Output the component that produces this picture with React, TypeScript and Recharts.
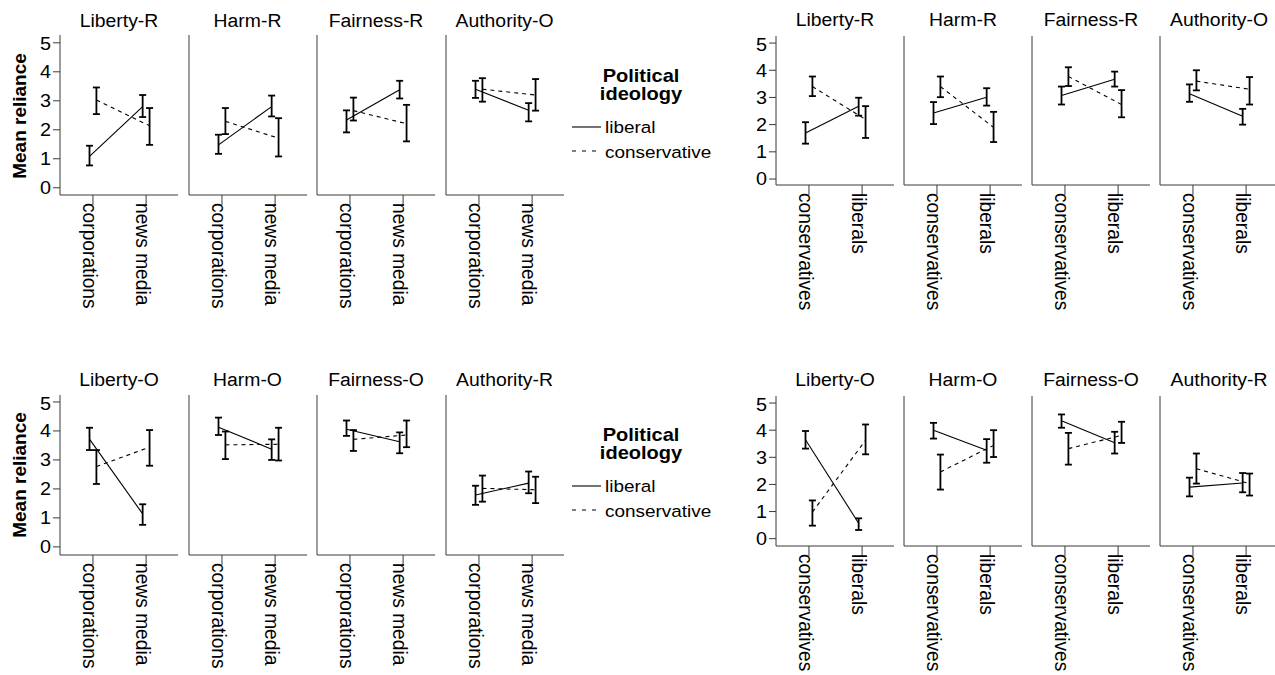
import React from 'react';
import { LineChart, Line, XAxis, YAxis, ErrorBar } from 'recharts';

const FONT = '"Liberation Sans", Arial, Helvetica, sans-serif';
const SX = 1.1;

// ---------- categories / labels ----------
const sourceCategories = ['corporations', 'news media'];
const targetCategories = ['conservatives', 'liberals'];
const yTicks = [0, 1, 2, 3, 4, 5];
const rowOneTitles = ['Liberty-R', 'Harm-R', 'Fairness-R', 'Authority-O'];
const rowTwoTitles = ['Liberty-O', 'Harm-O', 'Fairness-O', 'Authority-R'];
const legendTitle = ['Political', 'ideology'];
const seriesNames = ['liberal', 'conservative'];

// ---------- top-left (news source) ----------
const tlLibMean = [[1.08, 2.8], [1.48, 2.8], [2.34, 3.38], [3.4, 2.67]];
const tlLibLow = [[0.77, 2.44], [1.17, 2.46], [1.91, 3.08], [3.1, 2.29]];
const tlLibHigh = [[1.45, 3.2], [1.83, 3.18], [2.67, 3.69], [3.69, 2.92]];
const tlConMean = [[3.03, 2.14], [2.29, 1.71], [2.66, 2.21], [3.4, 3.2]];
const tlConLow = [[2.54, 1.48], [1.85, 1.08], [2.32, 1.6], [2.97, 2.66]];
const tlConHigh = [[3.46, 2.75], [2.75, 2.4], [3.11, 2.86], [3.78, 3.75]];

// ---------- top-right (target) ----------
const trLibMean = [[1.69, 2.68], [2.43, 3.01], [3.07, 3.67], [3.14, 2.31]];
const trLibLow = [[1.3, 2.33], [2.02, 2.7], [2.74, 3.4], [2.84, 2.0]];
const trLibHigh = [[2.09, 2.99], [2.83, 3.34], [3.4, 3.95], [3.48, 2.58]];
const trConMean = [[3.4, 2.19], [3.4, 1.9], [3.77, 2.74], [3.6, 3.3]];
const trConLow = [[3.05, 1.51], [3.01, 1.36], [3.42, 2.27], [3.26, 2.74]];
const trConHigh = [[3.77, 2.68], [3.77, 2.47], [4.11, 3.27], [4.0, 3.75]];

// ---------- bottom-left (news source) ----------
const blLibMean = [[3.72, 1.14], [4.13, 3.37], [4.06, 3.63], [1.79, 2.2]];
const blLibLow = [[3.34, 0.76], [3.86, 3.0], [3.83, 3.23], [1.45, 1.85]];
const blLibHigh = [[4.11, 1.47], [4.46, 3.71], [4.36, 3.95], [2.11, 2.6]];
const blConMean = [[2.77, 3.44], [3.52, 3.54], [3.71, 3.86], [2.02, 1.97]];
const blConLow = [[2.17, 2.8], [3.03, 2.98], [3.31, 3.44], [1.56, 1.51]];
const blConHigh = [[3.34, 4.03], [3.98, 4.11], [4.03, 4.36], [2.46, 2.42]];

// ---------- bottom-right (target) ----------
const brLibMean = [[3.65, 0.57], [4.0, 3.26], [4.35, 3.54], [1.9, 2.05]];
const brLibLow = [[3.32, 0.32], [3.69, 2.8], [4.09, 3.14], [1.56, 1.71]];
const brLibHigh = [[3.97, 0.75], [4.27, 3.67], [4.58, 3.94], [2.25, 2.42]];
const brConMean = [[0.98, 3.63], [2.46, 3.44], [3.32, 3.81], [2.58, 2.03]];
const brConLow = [[0.48, 3.11], [1.81, 3.01], [2.73, 3.53], [2.03, 1.59]];
const brConHigh = [[1.41, 4.21], [3.1, 4.0], [3.9, 4.31], [3.14, 2.4]];

const DODGE = 0.065;

function buildSeries(mean: number[], low: number[], high: number[], shift: number) {
  return mean.map((m, i) => ({ x: i + shift, y: m, e: [m - low[i], high[i] - m] }));
}

const YW = 40;
const XH = 130;

function XTick(props: any) {
  const { x, y, payload, labels } = props;
  const ax = x - 10;
  return (
    <text
      transform={`translate(${ax},${y - 2}) scale(${SX},1) rotate(90)`}
      x={0}
      y={0}
      fontSize={19.2}
      fontFamily={FONT}
      fill="#000"
      textAnchor="start"
    >
      {labels[payload.value]}
    </text>
  );
}

function YTick(props: any) {
  const { x, y, payload } = props;
  return (
    <text
      transform={`translate(${x},${y}) scale(${SX},1)`}
      x={0}
      y={0}
      dy="0.36em"
      fontSize={18}
      fontFamily={FONT}
      fill="#000"
      textAnchor="end"
    >
      {payload.value}
    </text>
  );
}

type PanelProps = {
  left: number;
  top: number;
  width: number;
  height: number;
  domain: [number, number];
  showTicks: boolean;
  labels: string[];
  lib: any[];
  con: any[];
};

function Panel({ left, top, width, height, domain, showTicks, labels, lib, con }: PanelProps) {
  return (
    <div style={{ position: 'absolute', left: left - YW, top }}>
      <LineChart
        width={YW + width + 2}
        height={height + XH}
        margin={{ top: 0, right: 2, bottom: 0, left: 0 }}
      >
        <XAxis
          type="number"
          dataKey="x"
          domain={[-0.62, 1.6]}
          ticks={[0, 1]}
          allowDataOverflow
          height={XH}
          tickSize={10}
          tickMargin={0}
          interval={0}
          stroke="#3a3a3a"
          tick={<XTick labels={labels} />}
        />
        <YAxis
          type="number"
          domain={domain}
          ticks={yTicks}
          allowDataOverflow
          width={YW}
          stroke="#3a3a3a"
          tickSize={7}
          tickMargin={2}
          tickLine={showTicks}
          tick={showTicks ? <YTick /> : false}
        />
        <Line
          data={lib}
          dataKey="y"
          stroke="#000"
          strokeWidth={1.1}
          dot={false}
          isAnimationActive={false}
        >
          <ErrorBar dataKey="e" direction="y" width={3.5} stroke="#000" strokeWidth={1.8} />
        </Line>
        <Line
          data={con}
          dataKey="y"
          stroke="#000"
          strokeWidth={1.1}
          strokeDasharray="4 4"
          dot={false}
          isAnimationActive={false}
        >
          <ErrorBar dataKey="e" direction="y" width={3.5} stroke="#000" strokeWidth={1.8} />
        </Line>
      </LineChart>
    </div>
  );
}

type GroupDef = {
  xs: number[];
  top: number;
  height: number;
  domain: [number, number];
  labels: string[];
  titles: string[];
  titleBase: number;
  lm: number[][]; ll: number[][]; lh: number[][];
  cm: number[][]; cl: number[][]; ch: number[][];
};

const groups: GroupDef[] = [
  {
    xs: [60, 188.5, 317, 445.5], top: 35, height: 160, domain: [-0.25, 5.27],
    labels: sourceCategories, titles: rowOneTitles, titleBase: 26.5,
    lm: tlLibMean, ll: tlLibLow, lh: tlLibHigh, cm: tlConMean, cl: tlConLow, ch: tlConHigh,
  },
  {
    xs: [776, 904, 1032, 1160], top: 36, height: 149, domain: [-0.22, 5.26],
    labels: targetCategories, titles: rowOneTitles, titleBase: 26,
    lm: trLibMean, ll: trLibLow, lh: trLibHigh, cm: trConMean, cl: trConLow, ch: trConHigh,
  },
  {
    xs: [60, 188.5, 317, 445.5], top: 395, height: 160, domain: [-0.28, 5.24],
    labels: sourceCategories, titles: rowTwoTitles, titleBase: 385.5,
    lm: blLibMean, ll: blLibLow, lh: blLibHigh, cm: blConMean, cl: blConLow, ch: blConHigh,
  },
  {
    xs: [776, 904, 1032, 1160], top: 396, height: 150, domain: [-0.27, 5.26],
    labels: targetCategories, titles: rowTwoTitles, titleBase: 385.5,
    lm: brLibMean, ll: brLibLow, lh: brLibHigh, cm: brConMean, cl: brConLow, ch: brConHigh,
  },
];

const PW = 118;

function HText({ x, y, size, bold, anchor, children }: any) {
  return (
    <text
      transform={`translate(${x},${y}) scale(${SX},1)`}
      fontSize={size}
      fontWeight={bold ? 'bold' : 'normal'}
      textAnchor={anchor}
      fontFamily={FONT}
      fill="#000"
    >
      {children}
    </text>
  );
}

function Legend({ top }: { top: number }) {
  return (
    <g>
      <HText x={641} y={top + 14} size={18.2} bold anchor="middle">{legendTitle[0]}</HText>
      <HText x={641} y={top + 32} size={18.2} bold anchor="middle">{legendTitle[1]}</HText>
      <line x1={572} x2={601} y1={top + 59} y2={top + 59} stroke="#000" strokeWidth={1.1} />
      <HText x={605} y={top + 65} size={17.2} anchor="start">{seriesNames[0]}</HText>
      <line x1={572} x2={601} y1={top + 83} y2={top + 83} stroke="#000" strokeWidth={1.1} strokeDasharray="4 6" />
      <HText x={605} y={top + 90} size={17.2} anchor="start">{seriesNames[1]}</HText>
    </g>
  );
}

export default function App() {
  return (
    <div style={{ position: 'absolute', left: 0, top: 0, width: 1275, height: 675, background: '#fff', overflow: 'hidden' }}>
      <svg width={1275} height={675} style={{ position: 'absolute', left: 0, top: 0 }}>
        {groups.map((g, gi) =>
          g.titles.map((t, i) => (
            <HText key={`t${gi}-${i}`} x={g.xs[i] + PW / 2} y={g.titleBase} size={17.6} anchor="middle">{t}</HText>
          ))
        )}
        <text transform="translate(26,116) rotate(-90)" textAnchor="middle" fontSize={19} fontWeight="bold" fontFamily={FONT} fill="#000">Mean reliance</text>
        <text transform="translate(26,475) rotate(-90)" textAnchor="middle" fontSize={19} fontWeight="bold" fontFamily={FONT} fill="#000">Mean reliance</text>
        <Legend top={68} />
        <Legend top={427} />
      </svg>
      {groups.map((g, gi) =>
        g.xs.map((x, i) => (
          <Panel
            key={`p${gi}-${i}`}
            left={x}
            top={g.top}
            width={PW}
            height={g.height}
            domain={g.domain}
            showTicks={i === 0}
            labels={g.labels}
            lib={buildSeries(g.lm[i], g.ll[i], g.lh[i], -DODGE)}
            con={buildSeries(g.cm[i], g.cl[i], g.ch[i], DODGE)}
          />
        ))
      )}
    </div>
  );
}
